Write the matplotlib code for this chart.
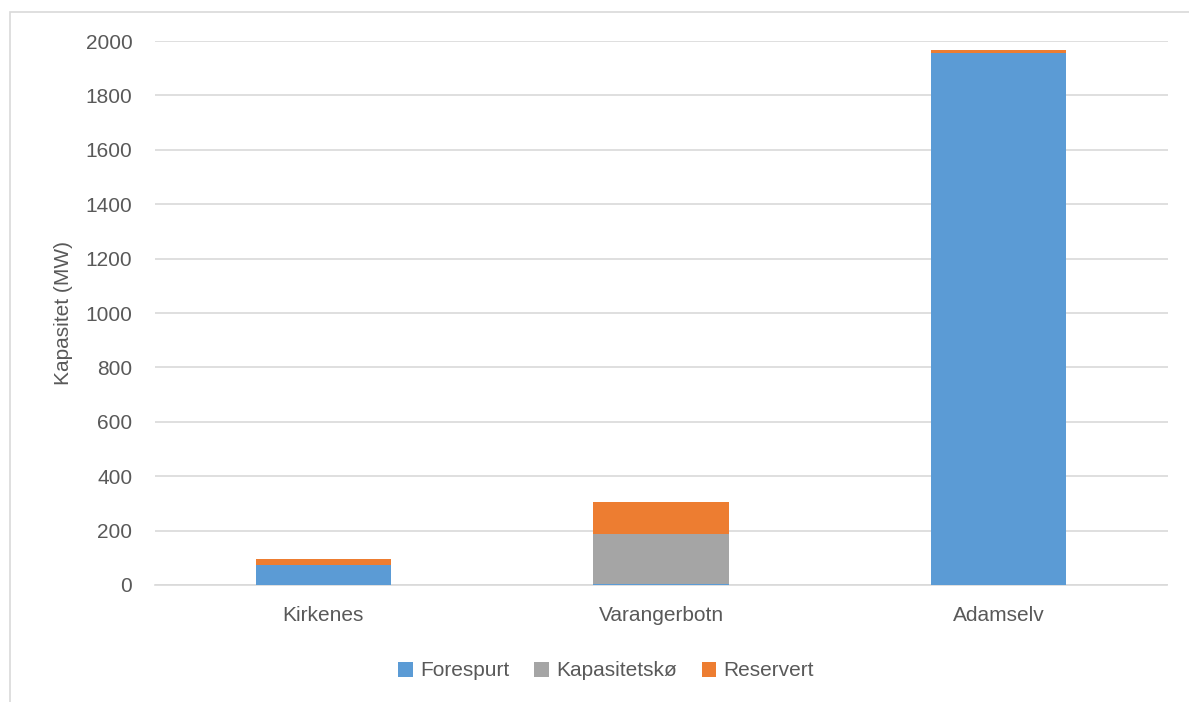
import numpy as np
import matplotlib.pyplot as plt
from matplotlib.patches import Rectangle

# data
steder = ['Kirkenes', 'Varangerbotn', 'Adamselv']
forespurt = [73, 5, 1957]
kapasitetsko = [0, 182, 0]
reservert = [23, 119, 9]

serier = ['Forespurt', 'Kapasitetskø', 'Reservert']
farger = ['#5B9BD5', '#A5A5A5', '#ED7D31']
yticks = [0, 200, 400, 600, 800, 1000, 1200, 1400, 1600, 1800, 2000]

plt.rcParams['font.family'] = ['Liberation Sans', 'DejaVu Sans']
tekst = '#595959'

W, H = 1189, 702
fig = plt.figure(figsize=(W / 100, H / 100), dpi=100)
# outer chart frame
fig.patches.append(Rectangle((10 / W, -0.1), 1.2, 1 - 12 / H + 0.1,
                             transform=fig.transFigure, fill=False,
                             edgecolor='#d9d9d9', linewidth=1.2))

ax = fig.add_axes([154.5 / W, 1 - 585 / H, 1013 / W, 544 / H])

x = np.arange(len(steder))
bunn = np.zeros(len(steder))
for navn, verdier, farge in zip(serier, [forespurt, kapasitetsko, reservert], farger):
    ax.bar(x, verdier, 0.4, bottom=bunn, color=farge, label=navn, zorder=3)
    bunn += np.array(verdier)

ax.set_xlim(-0.5, 2.5)
ax.set_ylim(0, 2000)
ax.set_yticks(yticks)
ax.set_xticks(x)
ax.set_xticklabels(steder)
ax.grid(axis='y', color='#d9d9d9', linewidth=1.2, zorder=0)
for s in ['top', 'right', 'left']:
    ax.spines[s].set_visible(False)
ax.spines['bottom'].set_color('#d9d9d9')
ax.spines['bottom'].set_linewidth(1.2)
ax.tick_params(length=0, labelsize=15, labelcolor=tekst)
ax.tick_params(axis='y', pad=16)
ax.tick_params(axis='x', pad=15)
ax.set_ylabel('Kapasitet (MW)', fontsize=15, color=tekst, labelpad=9)

ax.legend(loc='center', bbox_to_anchor=(606 / W, 1 - 671 / H),
          bbox_transform=fig.transFigure, ncol=3, frameon=False,
          fontsize=15, labelcolor=tekst, handlelength=0.7, handleheight=0.7,
          handletextpad=0.35, columnspacing=1.2)

fig.savefig('out.png', dpi=100)
